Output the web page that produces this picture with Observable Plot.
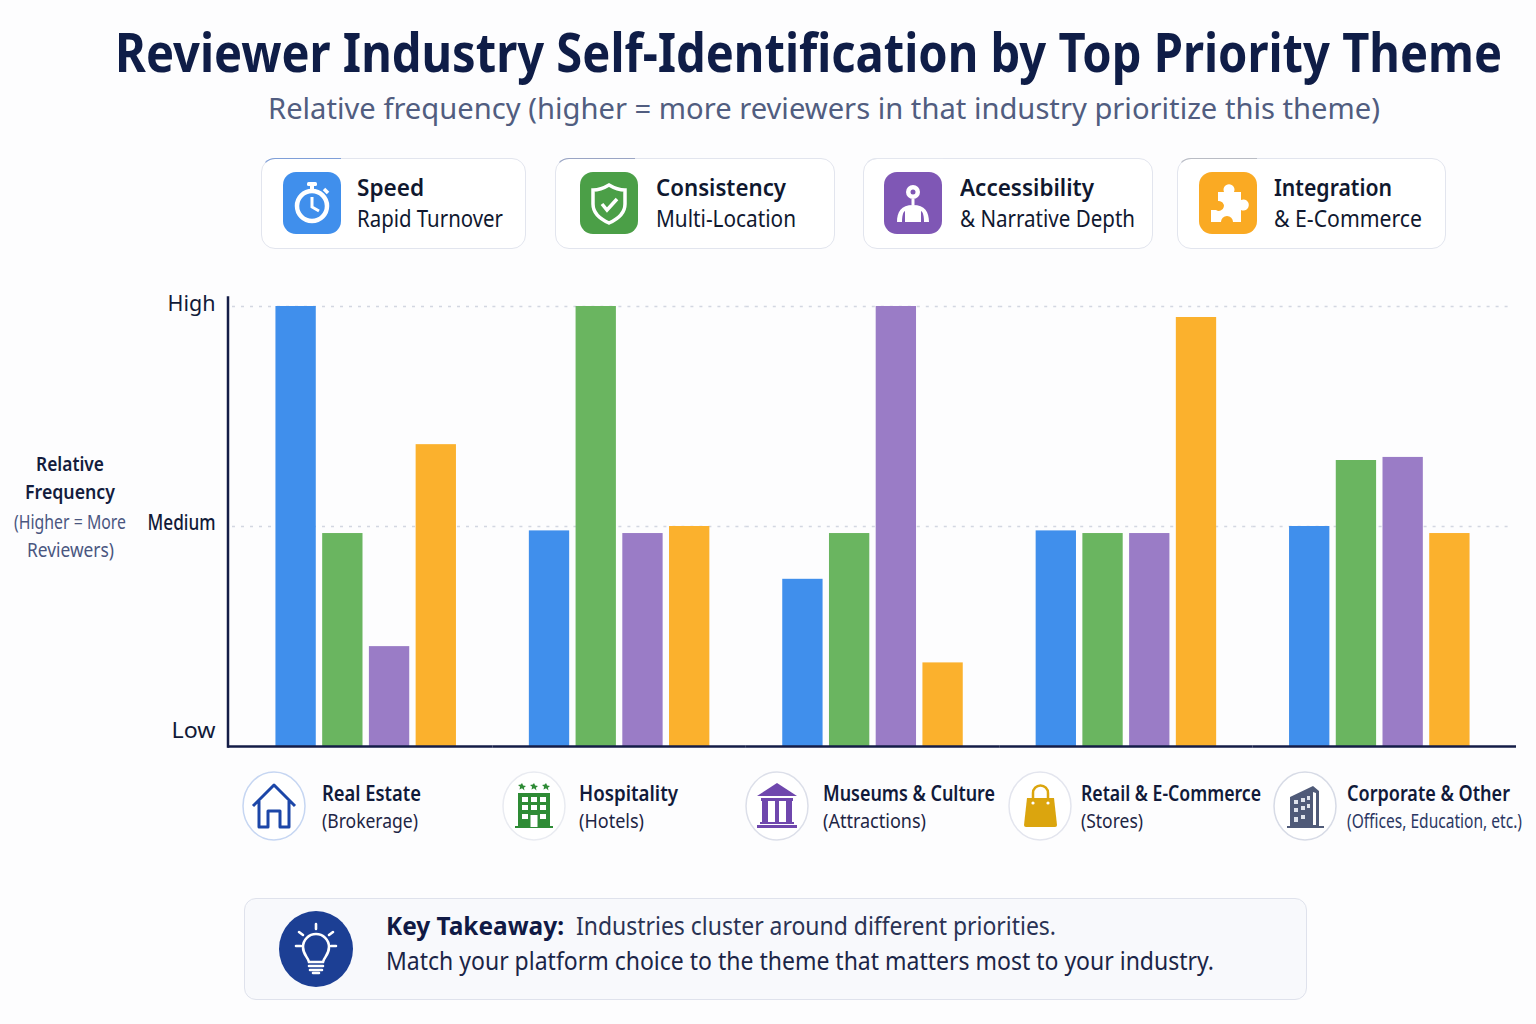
<!DOCTYPE html>
<html><head><meta charset="utf-8">
<script src="https://cdn.jsdelivr.net/npm/d3@7"></script>
<script src="https://cdn.jsdelivr.net/npm/@observablehq/plot@0.6"></script>
<style>
html,body{margin:0;padding:0;background:#fdfdfe;}
#page{position:relative;width:1536px;height:1024px;overflow:hidden;font-family:"Noto Sans",sans-serif;background:#fdfdfe;}
.t{position:absolute;white-space:nowrap;transform-origin:left center;line-height:1;}
.card{position:absolute;box-sizing:border-box;background:#fff;border:1.5px solid #e2e5ee;border-radius:14px;}
.accent{position:absolute;left:-1.5px;top:-1.5px;width:80px;height:14px;box-sizing:border-box;border-top:1.5px solid;border-left:1.5px solid transparent;border-top-left-radius:14px;}
.abs{position:absolute;}
#chart{position:absolute;left:0;top:280px;}
</style></head><body><div id="page"><div id="chart"></div></div>
<script>
const categories = ["Real Estate","Hospitality","Museums & Culture","Retail & E-Commerce","Corporate & Other"];
const categorySubs = ["(Brokerage)","(Hotels)","(Attractions)","(Stores)","(Offices, Education, etc.)"];
const themes = ["Speed","Consistency","Accessibility","Integration"];
const themeSubs = ["Rapid Turnover","Multi-Location","& Narrative Depth","& E-Commerce"];
const themeColors = ["#408fec","#6ab560","#9a7cc6","#fbb12d"];
const speed = [100,49,38,49,50];
const consistency = [48.4,100,48.4,48.4,65];
const accessibility = [22.7,48.4,100,48.4,65.7];
const integration = [68.6,50,19,97.5,48.4];
const yTicks = [0,50,100];
const yTickLabels = ["Low","Medium","High"];

const series = [speed,consistency,accessibility,integration];
const rows = categories.flatMap((cat,i)=>themes.map((theme,j)=>({cat,theme,value:series[j][i]})));

const page = document.getElementById("page");
const fits = [];
function put(text,x,yc,size,weight,color,w){
  const e=document.createElement("div");e.className="t";e.textContent=text;
  e.style.fontSize=size+"px";e.style.fontWeight=weight;e.style.color=color;
  e.style.left=x+"px";e.style.top=(yc-size/2)+"px";
  page.appendChild(e);fits.push({e,w});return e;
}
function box(cls,x,y,w,h,html){
  const e=document.createElement("div");e.className=cls;
  Object.assign(e.style,{left:x+"px",top:y+"px",width:w+"px",height:h+"px"});
  if(html)e.innerHTML=html;page.appendChild(e);return e;
}

// Title block
put("Reviewer Industry Self-Identification by Top Priority Theme",115,51,54,700,"#0f1d47",1387);
put("Relative frequency (higher = more reviewers in that industry prioritize this theme)",268,107,29,400,"#515d80",1112);

// Legend cards
const cardX=[261,555,863,1177],cardW=[265,280,290,269];
const accentC=["#7f9fd8","#9aa5c4","#e4e7ef","#b9bcc4"];
const tileX=[283,580,884,1199];
const textX=[357,656,960,1274];
const w1=[67,130,134,118],w2=[146,140,175,148];
const themeIcons=[
 `<circle cx="29" cy="34" r="15" fill="none" stroke="#fff" stroke-width="4.5"/><rect x="24" y="10" width="10" height="4" rx="1.5" fill="#fff"/><rect x="27" y="13" width="4" height="6" fill="#fff"/><path d="M41 17l4 4" stroke="#fff" stroke-width="3.5"/><path d="M29 25v10l7 4" fill="none" stroke="#fff" stroke-width="3"/>`,
 `<path d="M29 13c5 3 10 5 16 5v14c0 9-7 15-16 19-9-4-16-10-16-19V18c6 0 11-2 16-5z" fill="none" stroke="#fff" stroke-width="3.5"/><path d="M22 32l5 6 10-11" fill="none" stroke="#fff" stroke-width="3.5"/>`,
 `<circle cx="29" cy="20" r="7" fill="#fff"/><circle cx="29" cy="20" r="2.5" fill="#7f57b5"/><path d="M29 27v6" stroke="#fff" stroke-width="3"/><path d="M13 50c0-10 4-17 16-17s16 7 16 17h-5c0-6-1-10-3-11v11H21V39c-2 1-3 5-3 11z" fill="#fff"/>`,
 `<path d="M19 20H25a5.5 5.5 0 1 1 10 0H42V28a5.5 5.5 0 1 1 0 10V50H34a6 6 0 1 0-12 0H12V38H17a5 5 0 1 0 2-9z" fill="#fff"/>`
];
const tileC=["#408fec","#4b9f47","#7f57b5","#faaa23"];
themes.forEach((th,i)=>{
  box("card",cardX[i],158,cardW[i],91,`<div class="accent" style="border-top-color:${accentC[i]}"></div>`);
  box("abs",tileX[i],172,58,62,`<svg width="58" height="62" viewBox="0 0 58 62"><rect width="58" height="62" rx="13" fill="${tileC[i]}"/>${themeIcons[i]}</svg>`);
  put(th,textX[i]-0.5,187,24,600,"#10182f",w1[i]);
  put(themeSubs[i],textX[i]-0.5,218,23,400,"#10182f",w2[i]);
});

// Y label
const yl=[["Relative",464,600,"#131c3d",68],["Frequency",492,600,"#131c3d",90],["(Higher = More",522,400,"#4a5680",112],["Reviewers)",550,400,"#4a5680",87]];
yl.forEach(([s,y,wt,c,w])=>put(s,70-w/2,y,20,wt,c,w));

// Chart
const ink="#141d47", gridC="#d3d7e1";
const gridAt=(c)=>yTicks.slice(1).map(v=>({v,c}));
const gridOpts={y:"v",fx:"c",stroke:gridC,strokeWidth:1.5,strokeDasharray:"3,6"};
const baseOpts={y:()=>0,fx:"c",stroke:ink,strokeWidth:2.5};
const tickWidths=[44,68,48];
const chart=Plot.plot({
  width:1536,height:480,marginLeft:239,marginRight:30,marginTop:17,marginBottom:14,
  style:{fontFamily:'"Noto Sans",sans-serif',background:"transparent",overflow:"visible"},
  fx:{domain:categories,axis:null,label:null,padding:0,round:false},
  x:{domain:themes,axis:null,paddingInner:0.137,paddingOuter:0.78,round:false},
  y:{domain:[0,100],range:[466,26],axis:null},
  color:{domain:themes,range:themeColors},
  marks:[
    Plot.ruleY(gridAt(categories[0]),{...gridOpts,insetLeft:-7}),
    Plot.ruleY(categories.slice(1,4).flatMap(gridAt),gridOpts),
    Plot.ruleY(gridAt(categories[4]),{...gridOpts,insetRight:-2}),
    Plot.barY(rows,{fx:"cat",x:"theme",y:"value",fill:"theme"}),
    ...yTicks.map((t,i)=>Plot.axisY({ticks:[t],tickFormat:()=>yTickLabels[i],tickSize:0,tickPadding:24,label:null,fontSize:22,fontWeight:i==1?500:400,fill:"#111a38",dy:[-16,-4,-3][i],ariaLabel:"level "+yTickLabels[i]})),
    Plot.frame({anchor:"left",fx:[categories[0]],dx:-11.5,stroke:ink,strokeWidth:2.5}),
    Plot.ruleY([{c:categories[0]}],{...baseOpts,insetLeft:-11.5}),
    Plot.ruleY(categories.slice(1,4).map(c=>({c})),baseOpts),
    Plot.ruleY([{c:categories[4]}],{...baseOpts,insetRight:-10})
  ]
});
document.getElementById("chart").appendChild(chart);
// Axis labels in the reference's narrow setting
chart.querySelectorAll("text").forEach(t=>{
  const i=yTickLabels.indexOf(t.textContent);
  if(i>=0){t.setAttribute("textLength",tickWidths[i]);t.setAttribute("lengthAdjust","spacingAndGlyphs");t.style.fontFamily='"Noto Sans",sans-serif';}
});

// Category labels
const circX=[274,534,777,1040,1305];
const catX=[322,579,823,1081,1347];
const catW=[99,99,172,180,163],subW=[96,65,103,62,175];
const ringC=["#c6d6f2","#e9ebf1","#dcdfe9","#e3e5ee","#d7dbe6"];
const star=(cx,cy)=>`<path transform="translate(${cx},${cy})" d="M0-4l1.2 2.6 2.8.3-2.1 1.9.6 2.8L0 1.2l-2.5 1.4.6-2.8L-4-2.1l2.8-.3z"/>`;
const win=(x,y)=>`<rect x="${x}" y="${y}" width="6" height="5"/>`;
const catIcons=[
 `<path d="M6 28L27 7l21 21M12 23v26h9V33h12v16h9V23" fill="none" stroke="#1c46a8" stroke-width="3" stroke-linejoin="round"/>`,
 `<g fill="#2e8b35">${star(15,9)}${star(27,9)}${star(39,9)}<rect x="11" y="15" width="32" height="34"/><rect x="8" y="48" width="38" height="2"/></g><g fill="#fff">${win(15,19)}${win(24,19)}${win(33,19)}${win(15,27)}${win(24,27)}${win(33,27)}${win(15,36)}${win(33,36)}<rect x="23.5" y="37" width="7" height="12"/></g>`,
 `<path d="M7 18L27 5l20 13z" fill="#6f47ad"/><rect x="11" y="20" width="32" height="3" fill="#6f47ad"/><rect x="12" y="23" width="6" height="21" fill="#6f47ad"/><rect x="25" y="23" width="4" height="21" fill="#6f47ad"/><rect x="36" y="23" width="6" height="21" fill="#6f47ad"/><rect x="10" y="44" width="34" height="2" fill="#6f47ad"/><rect x="7" y="47" width="40" height="3" fill="#6f47ad"/>`,
 `<path d="M14 20h27l3 27a2 2 0 0 1-2 2H13a2 2 0 0 1-2-2z" fill="#dba50e"/><path d="M20 24V15a7.5 7.5 0 0 1 15 0v9" fill="none" stroke="#dba50e" stroke-width="2.5"/><circle cx="20" cy="25" r="1.6" fill="#fff"/><circle cx="35" cy="25" r="1.6" fill="#fff"/>`,
 `<path d="M12 48V19l23-11 6 5v35h5v2H9v-2z" fill="#4f5a78"/><path d="M35 14v33h3V15z" fill="#fff"/><g fill="#dfe3ec"><rect x="16" y="22" width="4" height="4"/><rect x="23" y="20" width="4" height="4"/><rect x="29" y="18" width="3" height="4"/><rect x="16" y="30" width="4" height="4"/><rect x="23" y="28" width="4" height="4"/><rect x="29" y="26" width="3" height="4"/><rect x="16" y="39" width="4" height="5"/><rect x="23" y="37" width="4" height="4"/></g>`
];
categories.forEach((c,i)=>{
  box("abs",circX[i]-32,772,64,68,`<svg width="64" height="68" viewBox="0 0 64 68" style="overflow:visible"><ellipse cx="32" cy="34" rx="31" ry="34" fill="#fff" stroke="${ringC[i]}" stroke-width="1.5"/><g transform="translate(5,6)">${catIcons[i]}</g></svg>`);
  put(c,catX[i],793,21,600,"#111a3a",catW[i]);
  put(categorySubs[i],catX[i],821,i==4?19:20,400,i==4?"#2b3763":"#1d2545",subW[i]);
});

// Takeaway
const tk=box("abs",244,898,1063,102);
Object.assign(tk.style,{boxSizing:"border-box",background:"#f8f9fc",border:"1.5px solid #dfe2ec",borderRadius:"12px"});
box("abs",279,911,74,76,`<svg width="74" height="76" viewBox="0 0 74 76"><ellipse cx="37" cy="38" rx="37" ry="38" fill="#1c3f94"/><g fill="none" stroke="#fff" stroke-width="2.6" stroke-linecap="round"><path d="M30 51c-1-5-6-7-6-15a13 13 0 0 1 26 0c0 8-5 10-6 15z"/><path d="M30 55h14M31 59h12M34 62h6"/><path d="M37 18v-5M24 24l-4-3M50 24l4-3M22 35h-5M52 35h5"/></g></svg>`);
put("Key Takeaway:",386,925,25,700,"#101a45",178);
put("Industries cluster around different priorities.",576,925,25,400,"#2a3354",480);
put("Match your platform choice to the theme that matters most to your industry.",386,960,25,400,"#1b2547",828);

// Fit every label to the width measured in the reference
function applyFits(){fits.forEach(({e,w})=>{e.style.transform="none";const r=e.getBoundingClientRect().width;if(w&&r)e.style.transform=`scaleX(${w/r})`;});}
applyFits();
if(document.fonts&&document.fonts.ready)document.fonts.ready.then(applyFits);
</script></body></html>
